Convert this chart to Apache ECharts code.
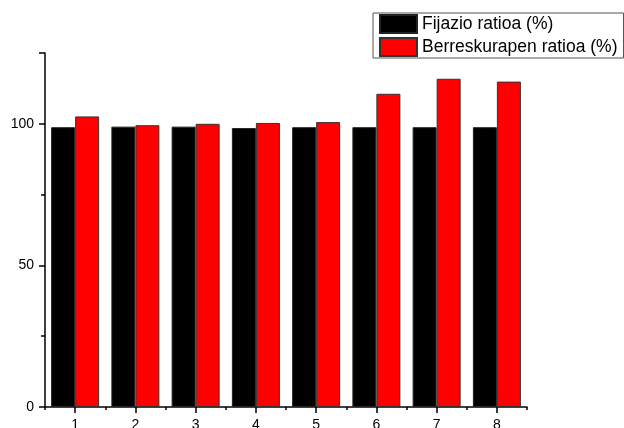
<!DOCTYPE html>
<html>
<head>
<meta charset="utf-8">
<style>
  html, body { margin: 0; padding: 0; background: #fff; }
  #chart { width: 624px; height: 428px; }
</style>
<script src="https://cdn.jsdelivr.net/npm/echarts@6/dist/echarts.min.js"></script>
</head>
<body>
<div id="chart"></div>
<script>
// Sample numbers along the category axis
const categories = ['1', '2', '3', '4', '5', '6', '7', '8'];
// Fixation ratio per sample (%)
const fijazioRatioa = [98.8, 99.0, 99.0, 98.5, 98.8, 98.8, 98.8, 98.8];
// Recovery ratio per sample (%)
const berreskurapenRatioa = [102.6, 99.5, 100.0, 100.3, 100.6, 110.6, 115.9, 114.9];
// Names shown in the legend
const seriesNames = ['Fijazio ratioa (%)', 'Berreskurapen ratioa (%)'];

const FONT = '"Liberation Sans", Arial, sans-serif';
const chart = echarts.init(document.getElementById('chart'), null, { renderer: 'canvas' });

const axisLine = { show: true, lineStyle: { color: '#000', width: 1.5 } };

chart.setOption({
  animation: false,
  backgroundColor: '#fff',
  grid: { left: 45, right: 97, top: 53, bottom: 21, containLabel: false, outerBoundsMode: 'none' },
  legend: {
    orient: 'vertical',
    left: 373,
    top: 13,
    padding: [1, 6, 1, 6],
    itemWidth: 37,
    itemHeight: 18,
    itemGap: 3,
    borderColor: '#555',
    borderWidth: 1,
    icon: 'rect',
    textStyle: { fontFamily: FONT, fontSize: 17.5, color: '#000', lineHeight: 18 },
    data: seriesNames
  },
  xAxis: [
    {
      type: 'category',
      data: categories,
      axisLine: axisLine,
      axisTick: { show: true, alignWithLabel: true, length: 6, lineStyle: { color: '#000', width: 1.5 } },
      axisLabel: { fontFamily: FONT, fontSize: 14, color: '#000', margin: 11 },
      splitLine: { show: false }
    },
    {
      // boundary ticks between the sample groups
      type: 'category',
      data: categories,
      position: 'bottom',
      axisLine: { show: false },
      axisTick: { show: true, length: 3, lineStyle: { color: '#000', width: 1.5 } },
      axisLabel: { show: false },
      splitLine: { show: false }
    }
  ],
  yAxis: [
    {
      type: 'value',
      min: 0,
      max: 125,
      interval: 50,
      axisLine: axisLine,
      axisTick: { show: true, length: 6, lineStyle: { color: '#000', width: 1.5 } },
      axisLabel: { fontFamily: FONT, fontSize: 14, color: '#000', margin: 11,
                   formatter: v => (v % 50 === 0 ? String(v) : '') },
      splitLine: { show: false }
    },
    {
      // minor ticks every 25
      type: 'value',
      min: 0,
      max: 125,
      interval: 25,
      position: 'left',
      axisLine: { show: false },
      axisTick: { show: true, length: 4, lineStyle: { color: '#000', width: 1.5 } },
      axisLabel: { show: false },
      splitLine: { show: false }
    }
  ],
  series: [
    {
      name: seriesNames[0],
      type: 'bar',
      data: fijazioRatioa,
      barWidth: 24,
      barGap: '0%',
      itemStyle: { color: '#000', borderColor: '#222', borderWidth: 1 }
    },
    {
      name: seriesNames[1],
      type: 'bar',
      data: berreskurapenRatioa,
      barWidth: 24,
      barGap: '0%',
      itemStyle: { color: '#ff0000', borderColor: '#333', borderWidth: 1 }
    }
  ]
});
</script>
</body>
</html>
